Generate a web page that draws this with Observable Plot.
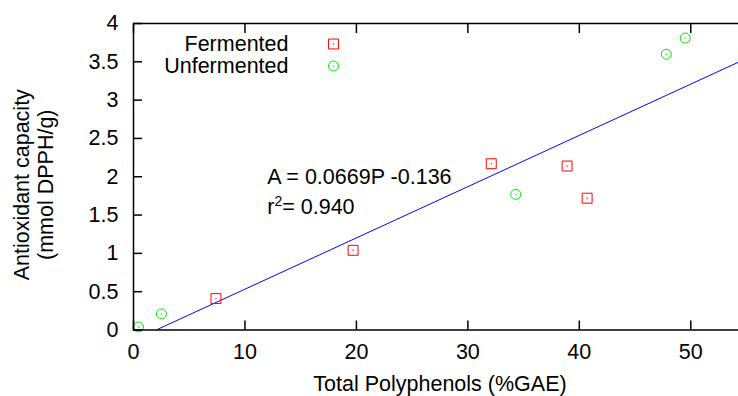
<!DOCTYPE html>
<html>
<head>
<meta charset="utf-8">
<script src="https://cdn.jsdelivr.net/npm/d3@7"></script>
<script src="https://cdn.jsdelivr.net/npm/@observablehq/plot@0.6"></script>
<style>
  html, body { margin: 0; padding: 0; overflow: hidden; background: #fff; }
  #chart { width: 738px; height: 396px; overflow: hidden; }
  #chart svg { font-family: "Liberation Sans", Arial, sans-serif; max-width: none !important; }
</style>
</head>
<body>
<div id="chart"></div>
<script>
// Total polyphenols (%GAE) vs antioxidant capacity (mmol DPPH/g)
const fermentedP = [7.4, 19.7, 32.1, 38.9, 40.7];
const fermentedA = [0.41, 1.04, 2.17, 2.14, 1.72];
const unfermentedP = [0.45, 2.5, 34.3, 47.8, 49.5];
const unfermentedA = [0.04, 0.21, 1.77, 3.60, 3.81];
const seriesNames = ["Fermented", "Unfermented"];

// Linear fit A = slope * P + intercept
const slope = 0.0669;
const intercept = -0.136;
const rSquared = 0.940;

const xTicks = [0, 10, 20, 30, 40, 50];
const yTicks = [0, 0.5, 1, 1.5, 2, 2.5, 3, 3.5, 4];
const xDomain = [0, 55];
const yDomain = [0, 4];

const fermented = fermentedP.map((p, i) => ({P: p, A: fermentedA[i]}));
const unfermented = unfermentedP.map((p, i) => ({P: p, A: unfermentedA[i]}));

const RED = "#ff0000";
const GREEN = "#00e800";
const FS = 21.5;

const series = [
  {name: seriesNames[0], data: fermented, symbol: "square", r: 5.6, color: RED},
  {name: seriesNames[1], data: unfermented, symbol: "circle", r: 5, color: GREEN}
];

const tickLabel = d => String(d);

const marks = [
  // regression line, clipped to the frame
  Plot.line(xDomain, {x: d => d, y: d => slope * d + intercept, stroke: "#0000ff", strokeWidth: 1, clip: true}),
  // points with a small centre dot
  ...series.flatMap(s => [
    Plot.dot(s.data, {x: "P", y: "A", symbol: s.symbol, r: s.r, stroke: s.color, strokeWidth: 1}),
    Plot.dot(s.data, {x: "P", y: "A", r: 0.7, fill: s.color, stroke: null})
  ]),
  // key
  ...series.flatMap((s, i) => [
    Plot.text([s.name], {text: d => d, frameAnchor: "top-left", dx: 155, dy: 21 + 22 * i,
      textAnchor: "end", lineAnchor: "middle", fontSize: FS, fill: "black"}),
    Plot.dot([s.name], {frameAnchor: "top-left", dx: 200, dy: 20.5 + 22 * i,
      symbol: s.symbol, r: s.r, stroke: s.color, strokeWidth: 1}),
    Plot.dot([s.name], {frameAnchor: "top-left", dx: 200, dy: 20.5 + 22 * i,
      r: 0.7, fill: s.color, stroke: null})
  ]),
  // fit annotation
  Plot.text([`A = ${slope}P ${intercept}`], {text: d => d, x: 12, y: 2.0, textAnchor: "start", fontSize: FS}),
  Plot.text([`r2= ${rSquared.toFixed(3)}`], {text: d => d, x: 12, y: 1.6, textAnchor: "start", fontSize: FS}),
  // inward ticks on all four sides
  Plot.axisX(xTicks, {anchor: "bottom", tickSize: -9, tickPadding: 31, lineAnchor: "middle", fontSize: FS, strokeWidth: 1.5, tickFormat: tickLabel, label: null}),
  Plot.axisX(xTicks, {anchor: "top", tickSize: -9, tickFormat: () => "", strokeWidth: 1.5, label: null}),
  Plot.axisY(yTicks, {anchor: "left", tickSize: -9, tickPadding: 24, fontSize: FS, strokeWidth: 1.5, tickFormat: tickLabel, label: null}),
  Plot.axisY(yTicks, {anchor: "right", tickSize: -9, tickFormat: () => "", strokeWidth: 1.5, label: null}),
  Plot.frame({stroke: "black", strokeWidth: 1.5}),
  // axis titles
  Plot.text(["Total Polyphenols (%GAE)"], {text: d => d, frameAnchor: "bottom", dy: 54,
    lineAnchor: "middle", textAnchor: "middle", fontSize: FS}),
  Plot.text(["Antioxidant capacity\n(mmol DPPH/g)"], {text: d => d, frameAnchor: "left", dx: -100, dy: 8,
    rotate: -90, textAnchor: "middle", lineAnchor: "middle", lineHeight: 1.08, fontSize: FS})
];

const chart = Plot.plot({
  width: 747,
  height: 396,
  marginLeft: 133,
  marginRight: 1,
  marginTop: 23,
  marginBottom: 66.5,
  style: {fontFamily: "'Liberation Sans', Arial, sans-serif", background: "white", color: "black"},
  x: {domain: xDomain},
  y: {domain: yDomain},
  marks
});

document.getElementById("chart").appendChild(chart);

// superscript the 2 in r2
d3.select(chart).selectAll("text")
  .filter(function () { return this.textContent.startsWith("r2="); })
  .each(function () {
    const t = d3.select(this);
    const rest = t.text().slice(2);
    t.text("r");
    t.append("tspan").attr("dy", -8).attr("font-size", 14).text("2");
    t.append("tspan").attr("dy", 8).text(rest);
  });
</script>
</body>
</html>
